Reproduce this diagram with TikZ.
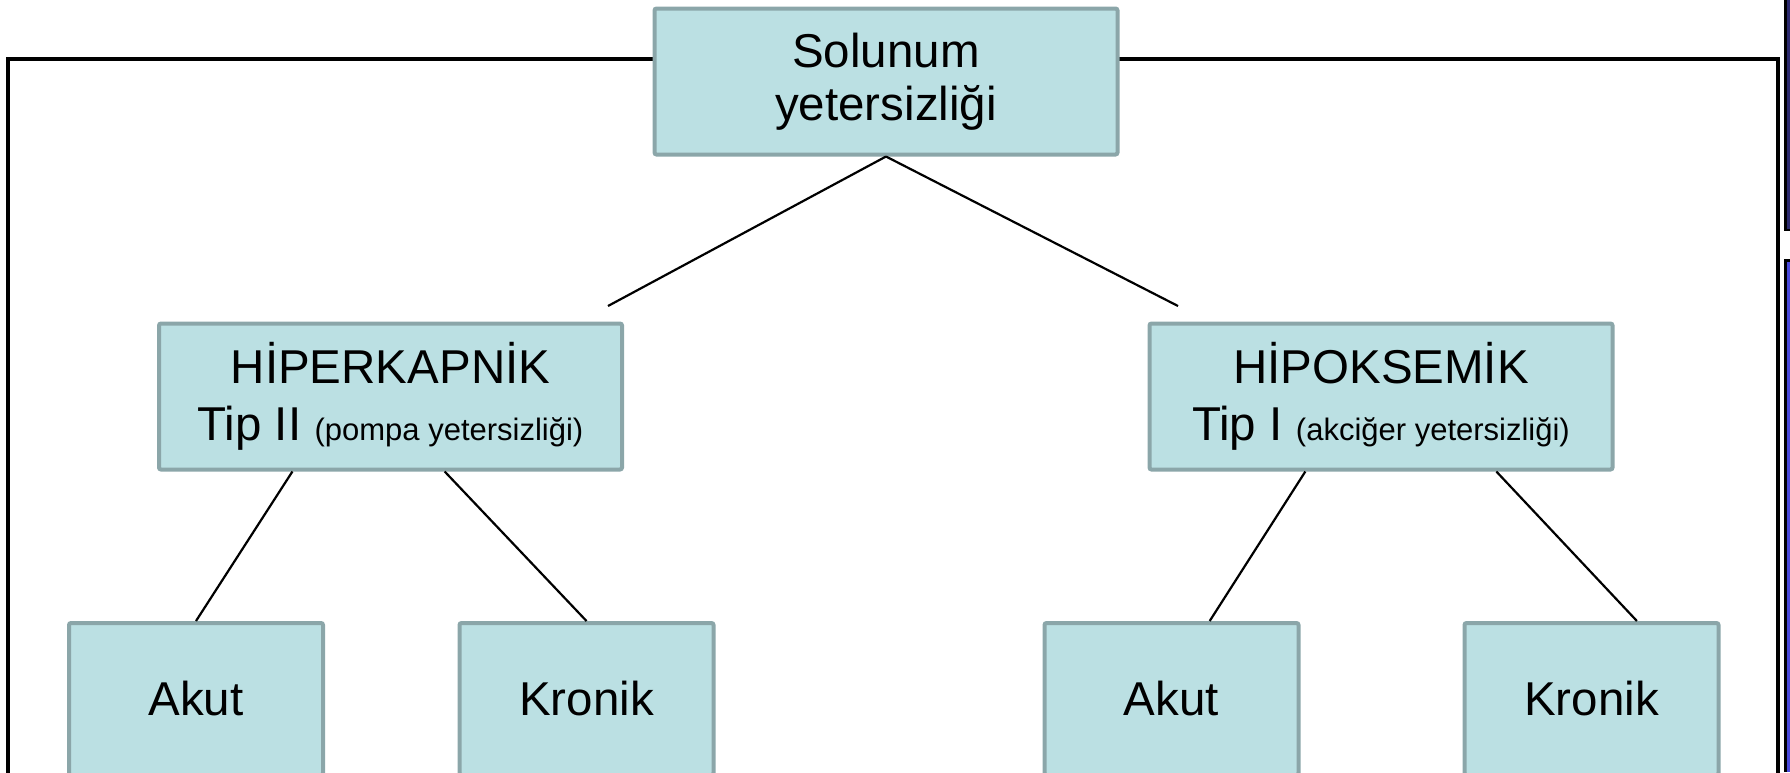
\documentclass[tikz,border=0pt]{standalone}
\usepackage{fontspec}
\setmainfont{Liberation Sans}
\usetikzlibrary{calc}
\definecolor{boxfill}{RGB}{187,224,227}
\definecolor{boxline}{RGB}{139,166,169}
\definecolor{barnavy}{RGB}{44,42,110}
\definecolor{barblue}{RGB}{74,74,220}
\newcommand{\paren}[1]{{\fontsize{15.5}{17}\selectfont #1}}

\begin{document}
\begin{tikzpicture}[x=0.5pt,y=-0.5pt,
  box/.style={draw=boxline, fill=boxfill, line width=2pt, rounded corners=1pt,
    align=center, inner sep=0pt},
  bigbox/.style={box, minimum width=231.5pt, minimum height=73pt},
  leafbox/.style={box, minimum width=127pt, minimum height=76pt,
    font=\fontsize{23.75}{28.5}\selectfont},
  link/.style={line width=1.1pt, black},
  frame/.style={line width=1.6pt, black}]

\clip (0,0) rectangle (1790,772);

% outer frame and the bars at the right edge
\draw[frame] (8,800) -- (8,59) -- (1778,59) -- (1778,800);
\fill[black] (1784,0) rectangle (1790,231);
\fill[barnavy] (1786.5,0) rectangle (1790,228.5);
\fill[black] (1784,259) rectangle (1790,772);
\fill[barblue] (1786.5,261.5) rectangle (1790,772);

\node[bigbox, font=\fontsize{23.75}{26.5}\selectfont] at (886,81.5) (top) {Solunum\\yetersizliği};

\node[bigbox, font=\fontsize{23.75}{28.5}\selectfont] at (390.5,396.5) (hiper)
  {HİPERKAPNİK\\Tip II \paren{(pompa yetersizliği)}};
\node[bigbox, font=\fontsize{23.75}{28.5}\selectfont] at (1381,396.5) (hipo)
  {HİPOKSEMİK\\Tip I \paren{(akciğer yetersizliği)}};

\node[leafbox] at (196,699) (akut1) {Akut};
\node[leafbox] at (586.5,699) (kronik1) {Kronik};
\node[leafbox] at (1171.5,699) (akut2) {Akut};
\node[leafbox] at (1591.5,699) (kronik2) {Kronik};

\coordinate (endL) at (608,306);
\coordinate (endR) at (1178,306);

\draw[link] (top.south) -- (endL);
\draw[link] (top.south) -- (endR);

\draw[link] ($(hiper.south west)!0.29!(hiper.south east)$) -- (akut1.north);
\draw[link] ($(hiper.south west)!0.616!(hiper.south east)$) -- (kronik1.north);
\draw[link] ($(hipo.south west)!0.338!(hipo.south east)$) -- ($(akut2.north west)!0.648!(akut2.north east)$);
\draw[link] ($(hipo.south west)!0.747!(hipo.south east)$) -- ($(kronik2.north west)!0.676!(kronik2.north east)$);

\end{tikzpicture}
\end{document}
